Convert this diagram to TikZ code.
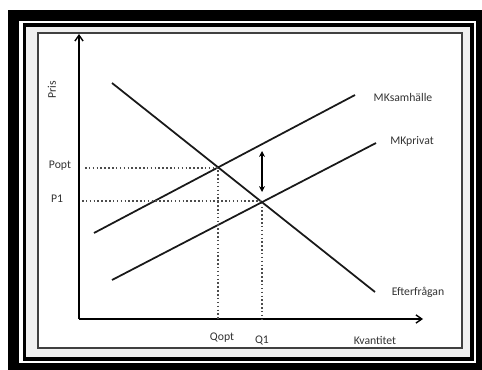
\documentclass[tikz,border=0pt]{standalone}
\usepackage{fontspec}
\setmainfont{Carlito}
\usetikzlibrary{arrows.meta}

\begin{document}
\begin{tikzpicture}[
      x=0.03cm, y=-0.03cm,
      >={Stealth[length=5pt, width=5pt]},
      curve/.style={line width=1.5pt, black!90},
      axis/.style={line width=1.5pt, -{Straight Barb[length=5pt, width=7pt, line width=1.2pt]}},
      guide/.style={line width=1.3pt, dotted, black!70},
      lbl/.style={font=\fontsize{10}{12}\selectfont, text=black!80, inner sep=1pt}
    ]
    \useasboundingbox (0,0) rectangle (482,370);

    % Frame
    \fill[black] (8,10) rectangle (482,370);
    \fill[white] (19,21) rectangle (476,363);
    \draw[black, line width=3pt, fill=black!6] (24.5,25) rectangle (472,359);
    \draw[black!75, line width=1.7pt, fill=white] (38,33) rectangle (462,348);

    % Axes
    \coordinate (O) at (79,319);
    \coordinate (ytop) at (79,34);
    \coordinate (xend) at (423,319);
    \draw[axis] (O) -- (ytop);
    \draw[axis] (O) -- (xend);
    \node[lbl, rotate=90] (pris) at (52,90) {Pris};
    \node[lbl] (kvant) at (375,340) {Kvantitet};

    % Curves
    \coordinate (d1) at (112,83);
    \coordinate (d2) at (375,292);
    \coordinate (s1) at (94,233);
    \coordinate (s2) at (355,95);
    \coordinate (p1) at (112,280);
    \coordinate (p2) at (376,143);
    \draw[curve] (d1) -- (d2);
    \draw[curve] (s1) -- (s2);
    \draw[curve] (p1) -- (p2);
    \node[lbl] (efter) at (418,292) {Efterfrågan};
    \node[lbl] (mks) at (403,97) {MKsamhälle};
    \node[lbl] (mkp) at (412,141) {MKprivat};

    % Equilibria
    \coordinate (Eopt) at (218,168);
    \coordinate (E1) at (262,201);
    \coordinate (poptl) at (85,168);
    \coordinate (p1l) at (82,201);
    \coordinate (qoptb) at (218,319);
    \coordinate (q1b) at (262,319);
    \draw[guide] (poptl) -- (Eopt) -- (qoptb);
    \draw[guide] (p1l) -- (E1) -- (q1b);
    \node[lbl] (popt) at (60,166) {Popt};
    \node[lbl] (pone) at (57,199) {P1};
    \node[lbl] (qopt) at (222,338) {Qopt};
    \node[lbl] (qone) at (262,340) {Q1};

    % Gap between the curves
    \coordinate (gtop) at (262,151);
    \coordinate (gbot) at (262,192);
    \draw[<->, line width=1.5pt] (gtop) -- (gbot);
  \end{tikzpicture}
\end{document}
